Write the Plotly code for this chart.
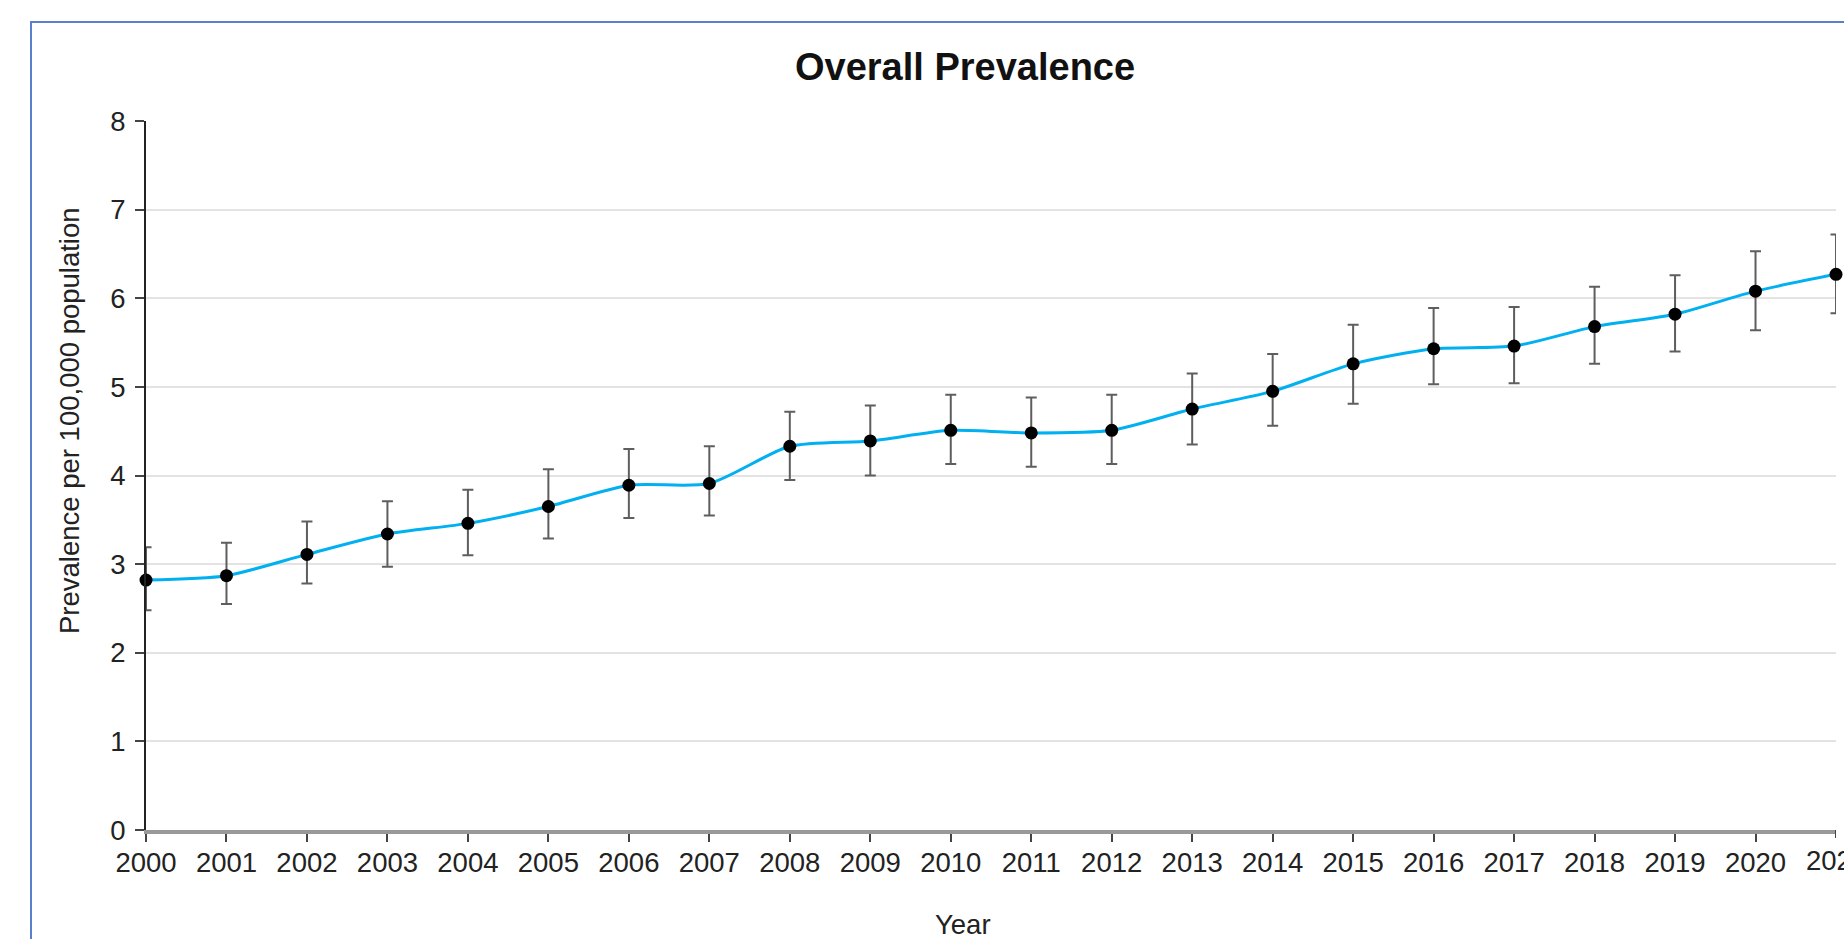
import plotly.graph_objects as go

years = list(range(2000, 2022))
prevalence = [2.82, 2.87, 3.11, 3.34, 3.46, 3.65, 3.89, 3.91, 4.33, 4.39, 4.51, 4.48, 4.51,
              4.75, 4.95, 5.26, 5.43, 5.46, 5.68, 5.82, 6.08, 6.27]
upper_ci = [3.19, 3.24, 3.48, 3.71, 3.84, 4.07, 4.30, 4.33, 4.72, 4.79, 4.91, 4.88, 4.91,
            5.15, 5.37, 5.70, 5.89, 5.90, 6.13, 6.26, 6.53, 6.72]
lower_ci = [2.48, 2.55, 2.78, 2.97, 3.10, 3.29, 3.52, 3.55, 3.95, 4.00, 4.13, 4.10, 4.13,
            4.35, 4.56, 4.81, 5.03, 5.04, 5.26, 5.40, 5.64, 5.83]
y_ticks = [0, 1, 2, 3, 4, 5, 6, 7, 8]
x_tick_labels = [str(y) for y in years]

W, H = 1844, 939
L, R, T, B = 146, 1836, 121, 830  # plot area in pixels


def px(x):
    return (x - L) / (R - L)


def py(y):
    return (B - y) / (B - T)


err_plus = [u - p for u, p in zip(upper_ci, prevalence)]
err_minus = [p - l for p, l in zip(prevalence, lower_ci)]

FONT = "Liberation Sans, Arial, sans-serif"
FS = 27.5

fig = go.Figure()
fig.add_trace(go.Scatter(
    x=years, y=prevalence,
    mode="lines+markers",
    line=dict(color="#00B0F0", width=3, shape="spline", smoothing=0.7),
    marker=dict(color="black", size=13),
    error_y=dict(type="data", symmetric=False, array=err_plus, arrayminus=err_minus,
                 color="#5E5E5E", thickness=2, width=5.5),
    cliponaxis=False,
    showlegend=False,
))

fig.update_layout(
    width=W, height=H,
    margin=dict(l=L, r=W - R, t=T, b=H - B, pad=0),
    paper_bgcolor="white", plot_bgcolor="white",
    font=dict(family=FONT, size=FS, color="#222222"),
    xaxis=dict(
        range=[2000, 2021], tickmode="array", tickvals=years[:-1],
        ticktext=x_tick_labels[:-1],
        showgrid=False, zeroline=False,
        showline=True, linecolor="#999999", linewidth=4,
        ticks="outside", ticklen=8, tickwidth=2, tickcolor="#444444",
        ticklabelstandoff=-3,
        tickfont=dict(family=FONT, size=FS, color="#222222"),
    ),
    yaxis=dict(
        range=[0, 8], tickmode="array", tickvals=y_ticks,
        showgrid=True, gridcolor="#E3E3E3", gridwidth=2,
        zeroline=False,
        showline=True, linecolor="#222222", linewidth=2,
        ticks="outside", ticklen=9, tickwidth=2, tickcolor="#444444",
        ticklabelstandoff=4,
        tickfont=dict(family=FONT, size=FS, color="#222222"),
    ),
    shapes=[
        dict(type="rect", xref="paper", yref="paper",
             x0=px(31), x1=px(W + 20), y0=py(H + 20), y1=py(22),
             line=dict(color="#5A7FCC", width=2), fillcolor="rgba(0,0,0,0)", layer="below"),
        dict(type="line", xref="x", yref="paper", x0=years[-1], x1=years[-1],
             y0=0, y1=py(B + 8), line=dict(color="#444444", width=2)),
    ],
    annotations=[
        dict(text=x_tick_labels[-1], xref="x", yref="paper",
             x=years[-1], y=py(B + 13), xanchor="center", yanchor="top", showarrow=False,
             font=dict(family=FONT, size=FS, color="#222222")),
        dict(text="<b>Overall Prevalence</b>", xref="paper", yref="paper",
             x=px(965), y=py(67), xanchor="center", yanchor="middle", showarrow=False,
             font=dict(family=FONT, size=38, color="#111111")),
        dict(text="Prevalence per 100,000 population", xref="paper", yref="paper",
             x=px(69), y=py(421), xanchor="center", yanchor="middle", showarrow=False,
             textangle=-90, font=dict(family=FONT, size=FS, color="#222222")),
        dict(text="Year", xref="paper", yref="paper",
             x=px(963), y=py(924), xanchor="center", yanchor="middle", showarrow=False,
             font=dict(family=FONT, size=FS, color="#222222")),
    ],
)

fig.write_html("out.html")
